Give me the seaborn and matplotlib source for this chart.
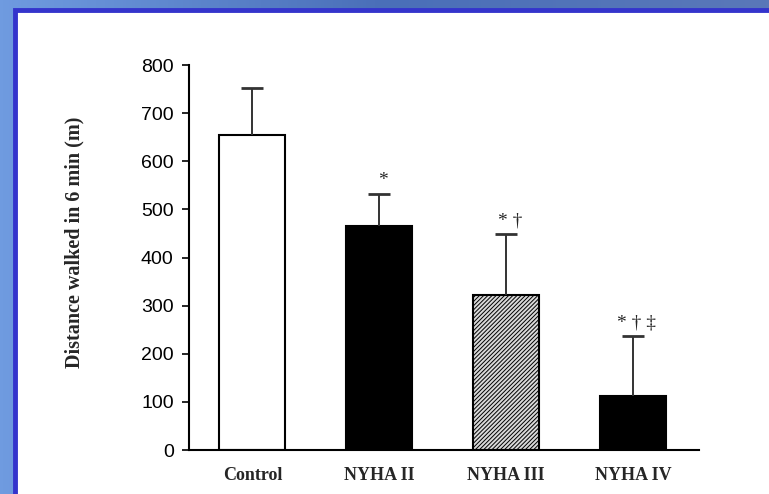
import numpy as np
import pandas as pd
import seaborn as sns
import matplotlib.pyplot as plt
from matplotlib.patches import Rectangle

# dados (média e desvio, em metros)
groups = ["Control", "NYHA II", "NYHA III", "NYHA IV"]
means = [654, 465, 323, 112]
sds = [98, 67, 125, 125]
marks = ["", "*", "* \u2020", "* \u2020 \u2021"]
bar_colors = ["white", "black", "#d9d9d9", "black"]

df = pd.DataFrame({"group": groups, "distance": means})

sns.set_style("white")
plt.rcParams["font.family"] = ["Liberation Sans", "DejaVu Sans"]
plt.rcParams["hatch.color"] = "#6a6a6a"
plt.rcParams["hatch.linewidth"] = 0.7

fig = plt.figure(figsize=(7.69, 4.94), dpi=100)

# fundo azul em degradê, como no slide
bg = fig.add_axes([0, 0, 1, 1], zorder=-2)
grad = np.linspace(0, 1, 256).reshape(1, -1)
bg.imshow(grad, aspect="auto", cmap=sns.blend_palette(["#6f9be0", "#4a6fb8", "#5a78b8"], as_cmap=True),
          extent=[0, 1, 0, 1])
bg.set_xlim(0, 1)
bg.set_ylim(0, 1)
bg.axis("off")
bg.add_patch(Rectangle((15 / 769, -0.05), 1.1, (494 - 10) / 494 + 0.05,
                       facecolor="white", edgecolor="#3434cc", linewidth=3.5))

ax = fig.add_axes([189 / 769, 44 / 494, 510 / 769, 385 / 494])
ax.set_facecolor("none")

sns.barplot(data=df, x="group", y="distance", hue="group", palette=bar_colors,
            edgecolor="black", linewidth=1.5, width=0.52, legend=False, ax=ax)

ax.patches[2].set_hatch("////////")
ax.patches[2].set_edgecolor("black")

# barras de erro só para cima
x = np.arange(len(groups))
eb = ax.errorbar(x, means, yerr=[np.zeros(len(sds)), sds], fmt="none", ecolor="#333333",
                 elinewidth=1.4, capsize=8, capthick=2, zorder=1)
eb[1][0].set_visible(False)  # tira o cap de baixo

# marcadores de significância
for i, (m, s, t) in enumerate(zip(means, sds, marks)):
    if t:
        ax.text(i + 0.03, m + s + 10, t, ha="center", va="bottom",
                fontsize=14, family=["Liberation Serif", "DejaVu Serif"])

ax.set_xlim(-0.5, 3.52)
ax.set_ylim(0, 800)
ax.set_yticks(range(0, 801, 100))
ax.set_xlabel("")
ax.set_ylabel("Distance walked in 6 min (m)", fontsize=14.5, fontweight="bold",
              family=["Liberation Serif", "DejaVu Serif"])
ax.yaxis.set_label_coords(-0.205, 0.54)

for sp in ["top", "right"]:
    ax.spines[sp].set_visible(False)
for sp in ["left", "bottom"]:
    ax.spines[sp].set_color("black")
    ax.spines[sp].set_linewidth(1.5)

ax.tick_params(axis="y", left=True, length=5, width=1.2, labelsize=14, colors="black", pad=6)
ax.tick_params(axis="x", bottom=False, length=0, pad=12)
for lab in ax.get_xticklabels():
    lab.set_fontfamily(["Liberation Serif", "DejaVu Serif"])
    lab.set_fontweight("bold")
    lab.set_fontsize(13)

fig.savefig("out.png", dpi=100)
